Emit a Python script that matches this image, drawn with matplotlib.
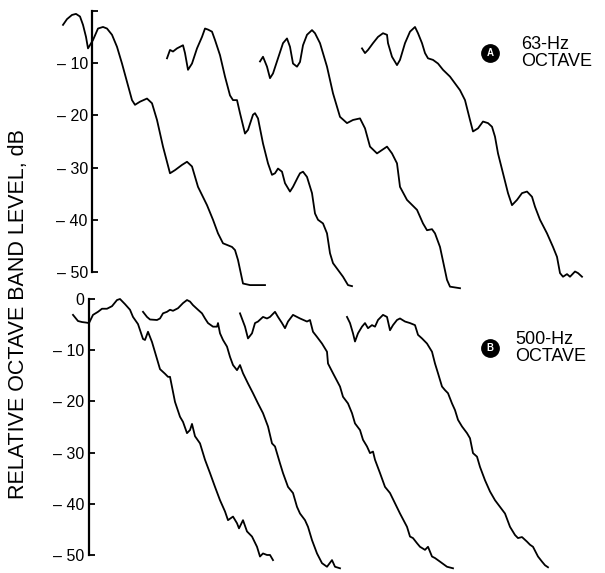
import matplotlib
matplotlib.use("Agg")
import matplotlib.pyplot as plt

plt.rcParams['font.family'] = ['Liberation Sans', 'DejaVu Sans']

# time axis is arbitrary (recorder chart units), levels in dB
# panel A: 63-Hz octave decays
a1_t = [63, 67, 72, 76, 80, 83, 86, 88, 93, 98, 103, 107, 112, 117, 122, 127, 132, 135, 140, 147,
        152, 157, 163, 170, 175, 182, 187, 192, 198, 207, 213, 218, 223, 232, 235, 238, 243, 250, 265]
a1_db = [-2.7, -1.6, -0.8, -0.6, -1.1, -2.7, -5.0, -7.2, -5.6, -3.4, -3.1, -3.4, -4.6, -6.9, -10.1, -13.6,
         -17.1, -18.0, -17.4, -16.8, -17.7, -20.9, -26.0, -31.1, -30.5, -29.5, -28.9, -29.8, -33.7, -37.2,
         -40.0, -42.6, -44.5, -45.2, -45.8, -47.7, -52.2, -52.5, -52.5]

a2_t = [167, 170, 173, 177, 180, 183, 185, 188, 192, 197, 202, 205, 208, 212, 215, 220, 225, 230, 233, 237,
        240, 245, 248, 253, 255, 258, 263, 268, 272, 275, 278, 282, 285, 290, 293, 298, 300, 303, 307, 312,
        315, 318, 323, 327, 330, 333, 338, 343, 348, 352]
a2_db = [-9.1, -7.5, -7.8, -7.2, -6.9, -6.6, -8.1, -11.3, -10.1, -7.2, -5.0, -3.4, -3.6, -4.0, -5.6, -8.5,
         -12.6, -16.2, -17.1, -17.1, -19.6, -23.5, -22.8, -19.9, -19.6, -20.6, -25.4, -29.2, -31.4, -31.1,
         -30.2, -30.8, -33.0, -34.6, -33.7, -31.8, -31.1, -30.8, -31.8, -34.9, -38.8, -40.0, -40.7, -42.6,
         -46.4, -48.3, -49.6, -50.9, -52.5, -52.7]

a3_t = [260, 263, 267, 270, 273, 278, 283, 287, 290, 293, 297, 300, 303, 307, 312, 315, 320, 327, 333, 340,
        347, 353, 360, 365, 370, 377, 387, 392, 397, 400, 407, 417, 423, 427, 432, 435, 440, 447, 450, 460]
a3_db = [-9.7, -8.8, -10.7, -12.9, -12.0, -9.1, -6.2, -5.3, -6.9, -10.1, -10.7, -9.8, -6.6, -4.6, -3.7, -4.3,
         -6.2, -10.7, -15.8, -20.3, -21.5, -20.9, -20.6, -22.5, -26.0, -27.3, -26.0, -27.3, -29.2, -33.7,
         -36.2, -38.1, -40.7, -42.0, -41.8, -42.6, -45.2, -51.5, -52.8, -53.1]

a4_t = [362, 365, 368, 373, 378, 383, 387, 388, 392, 397, 400, 405, 410, 415, 418, 422, 425, 428, 433, 438,
        443, 450, 455, 460, 465, 470, 473, 478, 483, 488, 492, 495, 498, 503, 508, 512, 517, 522, 527, 532,
        535, 540, 547, 553, 557, 560, 563, 567, 570, 575, 578, 582]
a4_db = [-7.2, -8.1, -7.5, -6.2, -5.0, -4.3, -4.6, -6.2, -8.8, -10.4, -9.4, -6.2, -4.0, -3.1, -4.3, -6.2,
         -8.1, -9.1, -9.4, -10.1, -11.3, -12.6, -13.9, -15.2, -17.1, -20.9, -23.1, -22.5, -21.2, -21.5,
         -22.2, -24.1, -27.3, -31.1, -34.9, -37.2, -36.2, -34.9, -34.6, -35.6, -37.5, -40.0, -42.6, -45.2,
         -47.1, -50.2, -50.9, -50.4, -50.9, -49.9, -50.2, -50.9]

# panel B: 500-Hz octave decays
b1_t = [73, 78, 82, 86, 89, 93, 98, 102, 107, 112, 117, 120, 125, 130, 133, 138, 143, 145, 148, 152,
        157, 160, 165, 168, 170, 175, 180, 183, 187, 190, 192, 195, 200, 205, 210, 215, 220,
        225, 228, 233, 237, 239, 243, 247, 252, 257, 260, 263, 267, 270, 273]
b1_db = [-3.1, -4.3, -4.5, -4.6, -4.7, -3.1, -2.5, -1.9, -1.9, -1.4, -0.2, 0.0, -1.0, -2.1, -3.5, -4.9,
         -7.8, -8.0, -6.4, -8.4, -11.7, -13.7, -14.6, -15.2, -15.2, -20.1, -23.0, -24.0, -26.2, -25.6,
         -24.4, -26.8, -28.2, -31.4, -34.0, -36.7, -39.3, -41.5, -43.2, -42.5, -43.8, -44.8, -43.2, -45.4,
         -46.4, -48.4, -50.3, -49.7, -50.0, -50.0, -51.0]

b2_t = [143, 147, 150, 157, 160, 163, 167, 170, 173, 178, 183, 187, 190, 193, 198, 202, 205, 208, 213, 217,
        218, 220, 223, 227, 230, 233, 237, 240, 243, 248, 253, 258, 263, 268, 272, 275, 280, 283, 288, 293,
        297, 300, 305, 308, 312, 317, 322, 327, 332, 335, 340]
b2_db = [-2.5, -3.5, -4.0, -4.1, -3.8, -2.8, -2.5, -2.1, -2.3, -1.8, -0.8, -0.2, -0.5, -1.2, -2.1, -2.8,
         -3.8, -4.7, -5.4, -5.4, -4.7, -6.7, -8.0, -9.3, -11.3, -12.9, -13.9, -12.9, -14.5, -16.5, -18.4,
         -20.4, -22.3, -24.9, -28.2, -28.8, -32.1, -34.0, -36.7, -37.9, -40.6, -41.9, -43.2, -44.5, -47.1,
         -49.7, -51.6, -52.3, -51.0, -52.3, -52.6]

b3_t = [240, 245, 248, 252, 255, 258, 263, 267, 270, 275, 278, 282, 285, 288, 293, 300, 307, 310, 313, 317,
        322, 327, 328, 333, 340, 343, 348, 352, 355, 360, 363, 367, 370, 373, 375, 380, 385, 390, 395, 400,
        407, 410, 413, 417, 420, 425, 428, 432, 435, 440, 447, 453]
b3_db = [-2.8, -5.4, -7.7, -6.7, -4.7, -4.4, -3.5, -3.8, -3.5, -2.5, -3.5, -4.7, -5.7, -4.4, -3.1, -3.8,
         -4.4, -4.1, -6.4, -7.4, -8.7, -10.3, -12.6, -14.5, -17.1, -19.1, -20.4, -22.3, -24.3, -25.6, -27.5,
         -28.8, -30.1, -29.8, -31.4, -34.0, -36.7, -37.9, -39.9, -41.9, -44.5, -46.4, -46.7, -47.7, -48.4,
         -49.0, -48.4, -50.3, -50.6, -51.3, -52.3, -52.6]

b4_t = [347, 350, 353, 355, 358, 362, 365, 368, 372, 375, 378, 383, 387, 390, 393, 397, 400, 405, 410, 415,
        418, 422, 427, 432, 435, 438, 442, 445, 448, 452, 455, 458, 462, 467, 470, 473, 477, 480, 485, 490,
        495, 500, 505, 510, 515, 518, 522, 527, 530, 533, 538, 542, 545, 548]
b4_db = [-3.5, -4.7, -6.7, -8.3, -6.7, -5.4, -4.7, -5.7, -5.1, -5.4, -4.1, -3.1, -3.5, -6.1, -5.1, -4.1,
         -3.8, -4.4, -4.7, -5.1, -7.0, -7.7, -8.7, -10.3, -12.6, -14.5, -17.1, -17.8, -18.4, -20.4, -21.7,
         -23.6, -24.9, -26.2, -27.2, -30.1, -30.8, -32.8, -35.4, -37.6, -39.3, -40.6, -41.9, -44.5, -46.1,
         -46.7, -46.5, -47.4, -48.0, -48.4, -50.3, -51.3, -52.0, -52.4]

level_ticks = [0, -10, -20, -30, -40, -50]
top_labels = ['', '\u2013 10', '\u2013 20', '\u2013 30', '\u2013 40', '\u2013 50']
bottom_labels = ['0', '\u2013 10', '\u2013 20', '\u2013 30', '\u2013 40', '\u2013 50']


def style_axis(ax, spine_x, labels):
    for side in ['top', 'right', 'bottom']:
        ax.spines[side].set_visible(False)
    ax.spines['left'].set_position(('data', spine_x))
    ax.spines['left'].set_bounds(-50, 0)
    ax.spines['left'].set_linewidth(1.6)
    ax.set_xticks([])
    ax.set_yticks(level_ticks, labels)
    ax.tick_params(axis='y', direction='in', length=4, width=1.3, pad=3, labelsize=11.5)
    ax.set_xlim(0, 605)
    ax.patch.set_alpha(0)


def badge(ax, x, y, letter, text, text_x):
    ax.plot([x], [y], 'o', ms=12.5, color='black')
    ax.text(x, y, letter, color='white', fontsize=7, fontweight='bold', ha='center', va='center')
    ax.text(text_x, y, text, fontsize=13, ha='left', va='center', linespacing=1.05)


def main():
    fig = plt.figure(figsize=(6.05, 5.73), dpi=100)

    # top panel, 63-Hz octave
    ax_a = fig.add_axes([0, 283 / 573, 1, 290 / 573])
    for t, db in [(a1_t, a1_db), (a2_t, a2_db), (a3_t, a3_db), (a4_t, a4_db)]:
        ax_a.plot(t, db, color='black', lw=1.3)
    ax_a.set_ylim(-53.44, 2.06)
    style_axis(ax_a, 92, top_labels)
    badge(ax_a, 490, -8.1, 'A', '63-Hz\nOCTAVE', 521)

    # bottom panel, 500-Hz octave
    ax_b = fig.add_axes([0, 0, 1, 283 / 573])
    for t, db in [(b1_t, b1_db), (b2_t, b2_db), (b3_t, b3_db), (b4_t, b4_db)]:
        ax_b.plot(t, db, color='black', lw=1.3)
    ax_b.set_ylim(-53.52, 1.76)
    style_axis(ax_b, 88.5, bottom_labels)
    badge(ax_b, 490, -9.6, 'B', '500-Hz\nOCTAVE', 515)

    fig.text(19 / 605, 1 - 314 / 573, 'RELATIVE OCTAVE BAND LEVEL, dB', rotation=90,
             ha='center', va='center', fontsize=15.5)

    fig.savefig('out.png', dpi=100)


main()
